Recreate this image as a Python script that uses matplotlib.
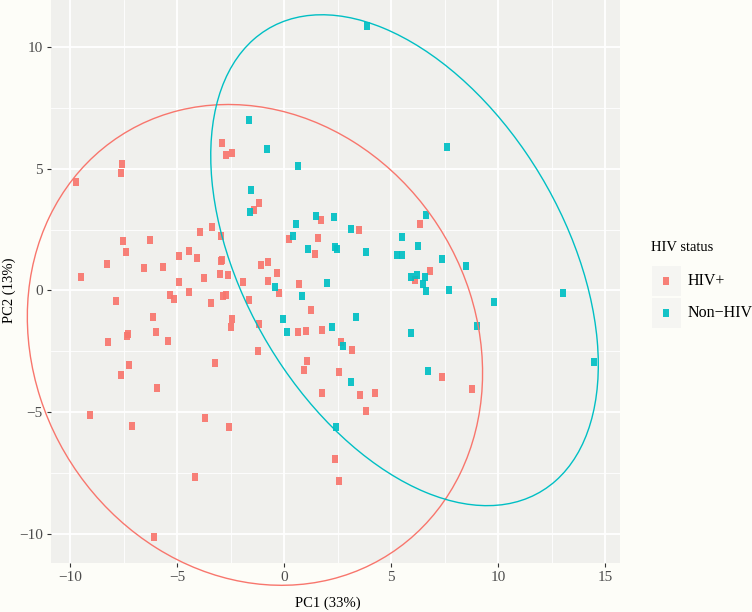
import numpy as np
import matplotlib
matplotlib.use('Agg')
from matplotlib import pyplot as plt
from matplotlib.patches import Rectangle, Ellipse
from matplotlib.lines import Line2D

plt.rcParams['font.family'] = ['Liberation Serif', 'DejaVu Serif']

# PCA scores
hiv_pos_x = [-9.70, -7.57, -7.60, -9.49, -7.52, -7.40, -6.28, -8.29, -6.54, -5.67,
             -4.91, -4.42, -4.08, -3.91, -3.38, -2.93, -2.90, -2.71, -2.43, -2.96,
             -2.88, -3.00, -2.64, -3.74, -4.89, -4.42, -5.33, -5.12, -7.85, -3.41,
             -2.83, -2.72, -6.14, -2.43, -2.49, -8.21, -7.36, -7.30, -5.98, -5.42,
             -7.26, -7.64, -5.92, -3.24, -9.09, -7.12, -3.69, -2.57, -4.14, -6.07,
             -1.15, -1.42, 1.71, 3.52, 0.23, 1.57, 1.43, -1.10, -0.76, -0.34,
             -1.92, -0.75, 0.72, -0.25, -1.66, 1.26, -1.15, 0.64, 1.01, 1.79,
             2.65, 3.18, -1.23, 1.07, 0.91, 2.56, 1.76, 3.57, 4.24, 3.83,
             2.38, 2.56, 6.34, 6.82, 6.11, 7.37, 8.79]
hiv_pos_y = [4.47, 5.19, 4.81, 0.56, 2.02, 1.56, 2.08, 1.09, 0.90, 0.97,
             1.41, 1.60, 1.35, 2.39, 2.60, 2.23, 6.07, 5.55, 5.64, 1.21,
             1.26, 0.66, 0.62, 0.49, 0.35, -0.08, -0.19, -0.37, -0.43, -0.53,
             -0.25, -0.18, -1.11, -1.18, -1.49, -2.12, -1.86, -1.78, -1.72, -2.07,
             -3.06, -3.49, -4.01, -2.98, -5.14, -5.59, -5.24, -5.61, -7.66, -10.15,
             3.57, 3.32, 2.91, 2.47, 2.12, 2.15, 1.50, 1.05, 1.15, 0.71,
             0.35, 0.39, 0.27, -0.12, -0.38, -0.81, -1.39, -1.71, -1.67, -1.62,
             -2.12, -2.44, -2.50, -2.90, -3.28, -3.35, -4.22, -4.28, -4.21, -4.94,
             -6.92, -7.85, 2.73, 0.80, 0.42, -3.57, -4.05]

non_hiv_x = [3.86, 7.62, -1.64, -0.78, 0.63, -1.54, -1.59, 1.51, 2.34, 0.56,
             3.12, 0.44, 1.12, 2.36, 2.48, 3.83, 5.27, 5.51, 5.53, 2.03,
             -0.42, 0.84, 3.36, -0.07, 0.13, 2.23, 2.76, 3.15, 2.42, 6.62,
             6.28, 7.40, 8.52, 5.93, 6.19, 6.61, 6.51, 6.64, 7.73, 9.80,
             13.02, 9.02, 5.93, 14.49, 6.75]
non_hiv_y = [10.88, 5.89, 7.01, 5.81, 5.11, 4.11, 3.24, 3.06, 3.02, 2.72,
             2.54, 2.23, 1.68, 1.79, 1.71, 1.57, 1.46, 1.45, 2.21, 0.29,
             0.14, -0.25, -1.10, -1.19, -1.72, -1.52, -2.28, -3.76, -5.62, 3.10,
             1.82, 1.31, 1.00, 0.55, 0.62, 0.55, 0.26, -0.04, 0.02, -0.47,
             -0.10, -1.45, -1.74, -2.93, -3.32]

# ellipses as drawn in the reference: centre, full axes, angle (deg, data units)
ell_center = [(-1.36, -2.24), (5.63, 1.24)]
ell_width = [21.9, 22.98]
ell_height = [19.06, 14.38]
ell_angle = [-28.8, -52.1]

groups = ['HIV+', 'Non\u2212HIV']
colors = ['#F8766D', '#00BFC4']
x_ticks = [-10, -5, 0, 5, 10, 15]
y_ticks = [-10, -5, 0, 5, 10]

fig = plt.figure(figsize=(7.52, 6.12), dpi=100)
fig.patch.set_facecolor('#fdfdf8')
W, H = 752, 612
ax = fig.add_axes([50.6 / W, 1 - 563 / H, (620 - 50.6) / W, 563 / H])
ax.set_facecolor('#f0f0ed')

rect = [(-0.72, -1), (0.72, -1), (0.72, 1), (-0.72, 1), (-0.72, -1)]

data = [(hiv_pos_x, hiv_pos_y), (non_hiv_x, non_hiv_y)]
for (xs, ys), c in zip(data, colors):
    ax.scatter(xs, ys, marker=rect, s=36, color=c, alpha=0.92, linewidths=0, zorder=3)
for i, c in enumerate(colors):
    ax.add_patch(Ellipse(ell_center[i], ell_width[i], ell_height[i], angle=ell_angle[i],
                         fill=False, edgecolor=c, lw=1.0, zorder=4, clip_on=False))

allx = hiv_pos_x + non_hiv_x
ally = hiv_pos_y + non_hiv_y
rx = max(allx) - min(allx)
ry = max(ally) - min(ally)
ax.set_xlim(min(allx) - 0.05 * rx, max(allx) + 0.05 * rx)
ax.set_ylim(min(ally) - 0.05 * ry, max(ally) + 0.05 * ry)

ax.set_xticks(x_ticks)
ax.set_yticks(y_ticks)
ax.set_xticklabels([str(t).replace('-', '\u2212') for t in x_ticks])
ax.set_yticklabels([str(t).replace('-', '\u2212') for t in y_ticks])
ax.set_xticks([-7.5, -2.5, 2.5, 7.5, 12.5], minor=True)
ax.set_yticks([-7.5, -2.5, 2.5, 7.5], minor=True)
ax.grid(True, which='major', color='white', lw=1.3)
ax.grid(True, which='minor', color='white', lw=0.6)
ax.set_axisbelow(True)
ax.tick_params(which='major', length=3.2, width=0.8, color='#333333', labelsize=11,
               labelcolor='#4d4d4d', pad=2.5)
ax.tick_params(which='minor', length=0)
for s in ax.spines.values():
    s.set_visible(False)

fig.text(328 / W, 1 - 603 / H, 'PC1 (33%)', fontsize=10.5, ha='center', va='center')
fig.text(9 / W, 1 - 290 / H, 'PC2 (13%)', fontsize=10.5, ha='center', va='center',
         rotation=90)

# legend
fig.text(650.7 / W, 1 - 247.3 / H, 'HIV status', fontsize=10.5, va='center', ha='left')
for i, (g, c) in enumerate(zip(groups, colors)):
    top = 265.7 + i * 32.3
    fig.patches.append(Rectangle((651.5 / W, 1 - (top + 30) / H), 29.5 / W, 30 / H,
                                 transform=fig.transFigure, facecolor='#f5f5f2',
                                 edgecolor='none'))
    cy = top + 15
    fig.add_artist(Line2D([665.5 / W], [1 - cy / H], marker=rect, markersize=6.2,
                          color=c, alpha=0.92, markeredgewidth=0, linestyle='none',
                          transform=fig.transFigure))
    fig.text(687.7 / W, 1 - cy / H, g, fontsize=11.5, va='center', ha='left')

fig.savefig('out.png', dpi=100, facecolor=fig.get_facecolor())
